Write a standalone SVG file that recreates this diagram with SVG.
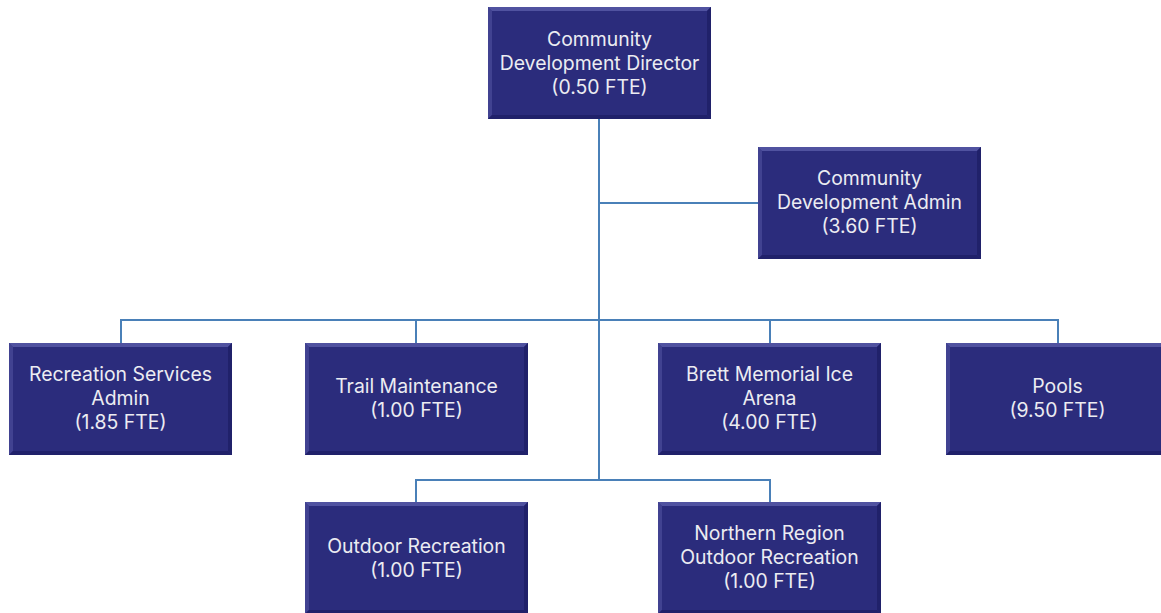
<svg xmlns="http://www.w3.org/2000/svg" width="1161" height="613" viewBox="0 0 1161 613">
<defs>
<style>
.box{fill:#2b2c7c;}
.hi{fill:#5052a0;}
.sh{fill:#20216a;}
.t{font-family:Inter,"Open Sans",sans-serif;font-size:19.4px;fill:#ececf2;text-anchor:middle;}
.c{stroke:#4a80b8;stroke-width:2;fill:none;}
</style>
<g id="bevel">
<rect class="box" x="0" y="0" width="223" height="112"/>
<polygon class="hi" points="0,0 223,0 219,4 4,4"/>
<polygon class="hi" points="0,0 4,4 4,108 0,112" opacity="0.6"/>
<polygon class="sh" points="223,0 223,112 219,108 219,4"/>
<polygon class="sh" points="0,112 223,112 219,108 4,108"/>
</g>
</defs>
<rect width="1161" height="613" fill="#ffffff"/>
<g id="connectors">
<line class="c" x1="599" y1="119" x2="599" y2="481"/>
<line class="c" x1="599" y1="203" x2="758" y2="203"/>
<polyline class="c" points="121,343 121,320 1058,320 1058,343"/>
<line class="c" x1="416" y1="320" x2="416" y2="343"/>
<line class="c" x1="770" y1="320" x2="770" y2="343"/>
<polyline class="c" points="416,502 416,480 770,480 770,502"/>
</g>
<g id="director"><use href="#bevel" x="488" y="7"/>
<text class="t" x="599.5" y="46">Community</text>
<text class="t" x="599.5" y="70">Development Director</text>
<text class="t" x="599.5" y="94">(0.50 FTE)</text></g>
<g id="cd-admin"><use href="#bevel" x="758" y="147"/>
<text class="t" x="869.5" y="185">Community</text>
<text class="t" x="869.5" y="209">Development Admin</text>
<text class="t" x="869.5" y="233">(3.60 FTE)</text></g>
<g id="rec-admin"><use href="#bevel" x="9" y="343"/>
<text class="t" x="120.5" y="381">Recreation Services</text>
<text class="t" x="120.5" y="405">Admin</text>
<text class="t" x="120.5" y="429">(1.85 FTE)</text></g>
<g id="trail"><use href="#bevel" x="305" y="343"/>
<text class="t" x="416.5" y="393">Trail Maintenance</text>
<text class="t" x="416.5" y="417">(1.00 FTE)</text></g>
<g id="arena"><use href="#bevel" x="658" y="343"/>
<text class="t" x="769.5" y="381">Brett Memorial Ice</text>
<text class="t" x="769.5" y="405">Arena</text>
<text class="t" x="769.5" y="429">(4.00 FTE)</text></g>
<g id="pools"><use href="#bevel" x="946" y="343"/>
<text class="t" x="1057.5" y="393">Pools</text>
<text class="t" x="1057.5" y="417">(9.50 FTE)</text></g>
<g id="outdoor"><use href="#bevel" x="305" y="502"/>
<text class="t" x="416.5" y="553">Outdoor Recreation</text>
<text class="t" x="416.5" y="577">(1.00 FTE)</text></g>
<g id="northern"><use href="#bevel" x="658" y="502"/>
<text class="t" x="769.5" y="540">Northern Region</text>
<text class="t" x="769.5" y="564">Outdoor Recreation</text>
<text class="t" x="769.5" y="588">(1.00 FTE)</text></g>
</svg>
